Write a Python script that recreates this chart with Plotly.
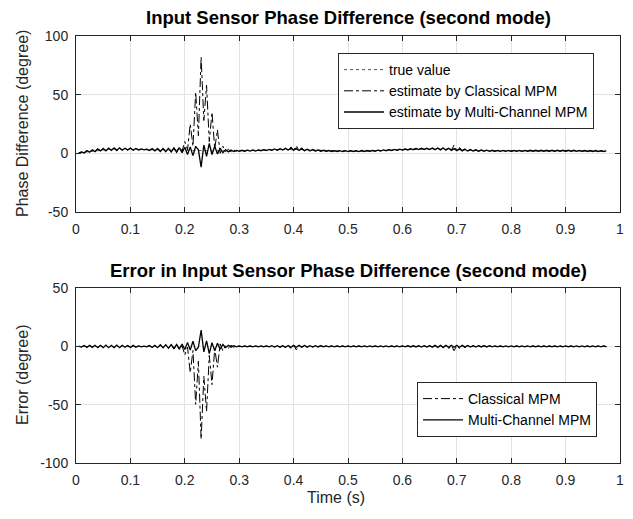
import numpy as np
import plotly.graph_objects as go

# ---------------- data ----------------
time_s = [round(0.005 * k, 3) for k in range(1, 196)]

true_value = [
    0.3, 0.6, 1.0, 1.4, 1.8, 2.1, 2.4, 2.7, 2.9, 3.1,
    3.2, 3.3, 3.4, 3.4, 3.5, 3.5, 3.5, 3.5, 3.5, 3.5,
    3.4, 3.4, 3.3, 3.3, 3.2, 3.2, 3.1, 3.1, 3.0, 3.0,
    2.9, 2.9, 2.8, 2.8, 2.7, 2.7, 2.6, 2.6, 2.5, 2.5,
    2.4, 2.4, 2.4, 2.3, 2.3, 2.3, 2.2, 2.2, 2.2, 2.2,
    2.1, 2.1, 2.1, 2.1, 2.1, 2.1, 2.1, 2.1, 2.1, 2.1,
    2.2, 2.2, 2.3, 2.3, 2.4, 2.4, 2.5, 2.6, 2.7, 2.8,
    2.9, 3.0, 3.1, 3.2, 3.3, 3.4, 3.5, 3.5, 3.5, 3.5,
    3.4, 3.3, 3.2, 3.0, 2.9, 2.7, 2.6, 2.5, 2.4, 2.3,
    2.2, 2.1, 2.0, 2.0, 1.9, 1.9, 1.9, 1.9, 1.9, 1.9,
    1.9, 1.9, 1.9, 1.9, 2.0, 2.0, 2.0, 2.1, 2.1, 2.2,
    2.3, 2.4, 2.5, 2.6, 2.7, 2.8, 2.9, 3.0, 3.1, 3.2,
    3.3, 3.4, 3.5, 3.6, 3.7, 3.7, 3.8, 3.8, 3.8, 3.8,
    3.8, 3.8, 3.7, 3.7, 3.6, 3.5, 3.4, 3.3, 3.2, 3.1,
    3.0, 2.9, 2.8, 2.7, 2.6, 2.5, 2.4, 2.4, 2.3, 2.3,
    2.2, 2.2, 2.2, 2.1, 2.1, 2.1, 2.1, 2.1, 2.1, 2.1,
    2.1, 2.1, 2.1, 2.1, 2.1, 2.2, 2.2, 2.2, 2.2, 2.2,
    2.2, 2.2, 2.2, 2.2, 2.2, 2.2, 2.2, 2.2, 2.2, 2.2,
    2.2, 2.2, 2.2, 2.1, 2.1, 2.1, 2.1, 2.0, 2.0, 2.0,
    2.0, 1.9, 1.9, 1.9, 1.8,
]

classical_mpm = [
    0.4, 1.0, 0.6, 2.0, 1.3, 2.7, 1.8, 3.5, 2.3, 3.9,
    2.4, 4.1, 2.8, 4.3, 2.7, 4.4, 2.9, 4.0, 3.0, 4.2,
    2.9, 3.9, 3.1, 3.6, 3.2, 3.4, 2.7, 3.8, 2.4, 3.9,
    1.9, 4.0, 1.8, 4.1, 1.0, 5.0, 1.5, 5.5, 2.0, 10.0,
    3.0, 25.0, 6.0, 52.0, 15.0, 82.0, 28.0, 58.0, 10.0, 35.0,
    4.0, 20.0, 0.0, 6.0, 1.5, 3.5, 1.2, 2.8, 1.8, 2.3,
    2.4, 2.0, 2.5, 2.1, 2.6, 2.2, 2.7, 2.4, 2.9, 2.6,
    3.2, 2.7, 3.5, 2.8, 3.8, 3.0, 4.5, 2.6, 5.5, 2.4,
    6.5, 2.3, 4.8, 2.0, 3.8, 2.0, 3.0, 2.0, 2.7, 1.9,
    2.4, 1.8, 2.2, 1.7, 2.1, 1.7, 2.1, 1.7, 2.1, 1.7,
    2.1, 1.7, 2.1, 1.7, 2.2, 1.8, 2.2, 1.9, 2.3, 2.0,
    2.5, 2.2, 2.7, 2.4, 2.9, 2.6, 3.1, 2.8, 3.3, 3.0,
    3.6, 3.1, 3.8, 3.3, 4.0, 3.4, 4.2, 3.4, 4.2, 3.4,
    4.3, 3.2, 4.4, 3.1, 4.8, 2.8, 5.5, 2.5, 7.0, 2.3,
    5.0, 2.2, 3.8, 2.1, 3.0, 2.0, 2.8, 1.9, 2.6, 1.9,
    2.5, 1.9, 2.4, 1.9, 2.3, 1.9, 2.3, 1.9, 2.3, 1.9,
    2.3, 1.9, 2.3, 1.9, 2.3, 2.0, 2.4, 2.0, 2.4, 2.0,
    2.4, 2.0, 2.4, 2.0, 2.4, 2.0, 2.4, 2.0, 2.4, 2.0,
    2.4, 2.0, 2.4, 1.9, 2.3, 1.9, 2.3, 1.8, 2.2, 1.8,
    2.2, 1.7, 2.1, 1.7, 2.0,
]

multichannel_mpm = [
    0.1, 1.2, 0.3, 2.3, 1.0, 3.0, 1.5, 3.8, 2.0, 4.2,
    2.1, 4.4, 2.5, 4.6, 2.4, 4.7, 2.6, 4.3, 2.8, 4.5,
    2.6, 4.1, 2.9, 3.8, 3.0, 3.6, 2.4, 4.0, 2.1, 4.1,
    1.6, 4.2, 1.4, 4.3, 1.2, 4.4, 0.9, 4.8, 0.5, 5.2,
    -1.0, 5.5, -2.0, 6.0, 3.0, -11.7, 7.0, -2.5, 8.5, -1.0,
    6.0, -0.5, 4.5, 0.5, 3.2, 1.2, 2.8, 1.6, 2.5, 1.8,
    2.6, 1.8, 2.7, 1.9, 2.8, 2.0, 2.9, 2.2, 3.1, 2.4,
    3.4, 2.5, 3.7, 2.6, 4.0, 2.8, 4.3, 2.8, 4.4, 2.7,
    4.2, 2.5, 3.9, 2.3, 3.5, 2.1, 3.2, 1.9, 2.9, 1.8,
    2.6, 1.7, 2.4, 1.6, 2.3, 1.5, 2.3, 1.5, 2.3, 1.5,
    2.3, 1.5, 2.3, 1.5, 2.4, 1.6, 2.4, 1.7, 2.5, 1.8,
    2.7, 2.0, 2.9, 2.2, 3.1, 2.4, 3.3, 2.6, 3.5, 2.8,
    3.8, 2.9, 4.0, 3.1, 4.2, 3.2, 4.4, 3.2, 4.4, 3.2,
    4.5, 3.0, 4.6, 2.9, 4.5, 2.6, 4.3, 2.4, 4.0, 2.2,
    3.8, 2.1, 3.5, 2.0, 3.2, 1.9, 3.0, 1.8, 2.8, 1.8,
    2.7, 1.7, 2.6, 1.7, 2.5, 1.7, 2.5, 1.7, 2.5, 1.7,
    2.5, 1.7, 2.5, 1.7, 2.5, 1.8, 2.6, 1.8, 2.6, 1.8,
    2.6, 1.8, 2.6, 1.8, 2.6, 1.8, 2.6, 1.8, 2.6, 1.8,
    2.6, 1.8, 2.6, 1.7, 2.5, 1.7, 2.5, 1.6, 2.4, 1.6,
    2.4, 1.5, 2.3, 1.5, 2.2,
]

# error = true value - estimate
err_classical = list(np.round(np.array(true_value) - np.array(classical_mpm), 2))
err_multichannel = list(np.round(np.array(true_value) - np.array(multichannel_mpm), 2))

x_ticks = [0, 0.1, 0.2, 0.3, 0.4, 0.5, 0.6, 0.7, 0.8, 0.9, 1]
x_tick_labels = ["0", "0.1", "0.2", "0.3", "0.4", "0.5", "0.6", "0.7", "0.8", "0.9", "1"]
y1_ticks = [-50, 0, 50, 100]
y1_tick_labels = ["-50", "0", "50", "100"]
y2_ticks = [-100, -50, 0, 50]
y2_tick_labels = ["-100", "-50", "0", "50"]

# ---------------- figure ----------------
FONT = "Liberation Sans, Arial, sans-serif"
AX = "#262626"
GRID = "#e3e3e3"

OFF = 8  # the page body adds an 8px margin; positions below are in screen pixels
W, H = 633 - OFF, 519 - OFF
ML, MR, MT, MB = 76 - OFF, W - (620 - OFF), 36 - OFF, H - (463 - OFF)
PW, PH = W - ML - MR, H - MT - MB


def px_x(x):
    return (x - OFF - ML) / PW


def px_y(y):
    return (H - MB - (y - OFF)) / PH


fig = go.Figure()

fig.add_trace(go.Scatter(x=time_s, y=true_value, mode="lines", name="true value",
                         line=dict(color="#555555", width=1, dash="dot"),
                         xaxis="x", yaxis="y", legend="legend"))
fig.add_trace(go.Scatter(x=time_s, y=classical_mpm, mode="lines", name="estimate by Classical MPM",
                         line=dict(color="black", width=1, dash="dashdot"),
                         xaxis="x", yaxis="y", legend="legend"))
fig.add_trace(go.Scatter(x=time_s, y=multichannel_mpm, mode="lines", name="estimate by Multi-Channel MPM",
                         line=dict(color="black", width=1.3),
                         xaxis="x", yaxis="y", legend="legend"))

fig.add_trace(go.Scatter(x=time_s, y=err_classical, mode="lines", name="Classical MPM",
                         line=dict(color="black", width=1, dash="dashdot"),
                         xaxis="x2", yaxis="y2", legend="legend2"))
fig.add_trace(go.Scatter(x=time_s, y=err_multichannel, mode="lines", name="Multi-Channel MPM",
                         line=dict(color="black", width=1.3),
                         xaxis="x2", yaxis="y2", legend="legend2"))

axis_common = dict(showline=True, linecolor=AX, linewidth=1, mirror="ticks",
                   ticks="inside", ticklen=5, tickcolor=AX, automargin=False,
                   showgrid=True, gridcolor=GRID, gridwidth=1, zeroline=False,
                   ticklabeloverflow="allow",
                   tickfont=dict(family=FONT, size=14, color=AX))

X_RANGE = [0, 1]
# the right-most x label is placed as an annotation (plotly drops it at the range edge)
x_tick_text_axis = x_tick_labels[:-1] + [""]

fig.update_layout(
    width=W, height=H,
    paper_bgcolor="white", plot_bgcolor="white",
    margin=dict(l=ML, r=MR, t=MT, b=MB, autoexpand=False),
    font=dict(family=FONT, color=AX),
    xaxis=dict(domain=[0, 1], range=X_RANGE, tickvals=x_ticks, ticktext=x_tick_text_axis,
               anchor="y", ticklabelstandoff=4, **axis_common),
    yaxis=dict(domain=[px_y(212), 1], range=[-50, 100], tickvals=y1_ticks, ticktext=y1_tick_labels,
               anchor="x", ticklabelstandoff=4, **axis_common),
    xaxis2=dict(domain=[0, 1], range=X_RANGE, tickvals=x_ticks, ticktext=x_tick_text_axis,
                anchor="y2", ticklabelstandoff=4, **axis_common),
    yaxis2=dict(domain=[0, px_y(288)], range=[-100, 50], tickvals=y2_ticks, ticktext=y2_tick_labels,
                anchor="x2", ticklabelstandoff=4, **axis_common),
    legend=dict(x=px_x(338), y=px_y(53), xanchor="left", yanchor="top",
                bgcolor="white", bordercolor=AX, borderwidth=1,
                font=dict(family=FONT, size=14, color="black"),
                tracegroupgap=0, itemwidth=40),
    legend2=dict(x=px_x(417), y=px_y(382), xanchor="left", yanchor="top",
                 bgcolor="white", bordercolor=AX, borderwidth=1,
                 font=dict(family=FONT, size=14, color="black"),
                 tracegroupgap=0, itemwidth=40),
    annotations=[
        dict(text="<b>Input Sensor Phase Difference (second mode)</b>",
             x=px_x(348), y=px_y(18), xref="paper", yref="paper", showarrow=False,
             xanchor="center", yanchor="middle",
             font=dict(family=FONT, size=18.5, color="black")),
        dict(text="<b>Error in Input Sensor Phase Difference (second mode)</b>",
             x=px_x(348), y=px_y(270), xref="paper", yref="paper", showarrow=False,
             xanchor="center", yanchor="middle",
             font=dict(family=FONT, size=18.5, color="black")),
        dict(text="Phase Difference (degree)", textangle=-90,
             x=px_x(22), y=px_y(124), xref="paper", yref="paper", showarrow=False,
             xanchor="center", yanchor="middle",
             font=dict(family=FONT, size=16, color=AX)),
        dict(text="Error (degree)", textangle=-90,
             x=px_x(22), y=px_y(375), xref="paper", yref="paper", showarrow=False,
             xanchor="center", yanchor="middle",
             font=dict(family=FONT, size=16, color=AX)),
        dict(text="Time (s)",
             x=px_x(336), y=px_y(497), xref="paper", yref="paper", showarrow=False,
             xanchor="center", yanchor="middle",
             font=dict(family=FONT, size=16, color=AX)),
        dict(text=x_tick_labels[-1], x=x_ticks[-1], xref="x", y=px_y(229), yref="paper",
             showarrow=False, xanchor="center", yanchor="middle",
             font=dict(family=FONT, size=14, color=AX)),
        dict(text=x_tick_labels[-1], x=x_ticks[-1], xref="x2", y=px_y(480), yref="paper",
             showarrow=False, xanchor="center", yanchor="middle",
             font=dict(family=FONT, size=14, color=AX)),
    ],
)

fig.write_html("out.html")
